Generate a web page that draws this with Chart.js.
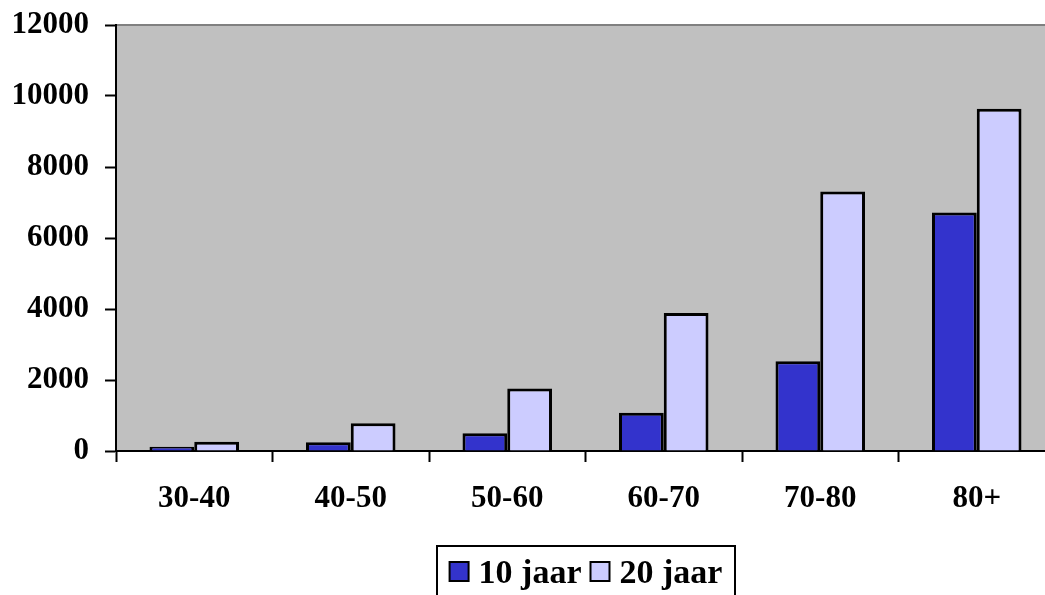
<!DOCTYPE html>
<html>
<head>
<meta charset="utf-8">
<title>10 jaar / 20 jaar</title>
<script src="https://cdn.jsdelivr.net/npm/chart.js@4/dist/chart.umd.min.js"></script>
<style>
  html, body { margin: 0; padding: 0; background: #ffffff; overflow: hidden; }
  #wrap { position: absolute; left: 0; top: 0; }
</style>
</head>
<body>
<div id="wrap">
  <canvas id="age-chart" width="1075" height="620"></canvas>
</div>
<script>
// ── Data ──────────────────────────────────────────────────────
const AGE_GROUPS   = ['30-40', '40-50', '50-60', '60-70', '70-80', '80+'];
const TEN_YEARS    = [120, 250, 500, 1080, 2530, 6720];
const TWENTY_YEARS = [260, 780, 1760, 3890, 7310, 9640];
const SERIES_NAMES = ['10 jaar', '20 jaar'];
const Y_MAX  = 12000;
const Y_STEP = 2000;

// Colors
const DARK_BLUE  = '#3333CC';
const LIGHT_BLUE = '#CCCCFF';
const PLOT_GREY  = '#C0C0C0';

// ── Layout (canvas is a bit wider than the window; the plot runs off the right edge)
const CANVAS_W = 1075;
const CANVAS_H = 620;
const PLOT_LEFT   = 116;
const PLOT_TOP    = 25;
const PLOT_RIGHT  = 1055;
const PLOT_BOTTOM = 451;

const FONT_FAMILY = '"Liberation Serif", "Times New Roman", serif';

// ── Plot background + grey top edge ───────────────────────────
const plotBackground = {
  id: 'plotBackground',
  beforeDraw: function (chart) {
    const a = chart.chartArea;
    const ctx = chart.ctx;
    ctx.save();
    ctx.fillStyle = PLOT_GREY;
    ctx.fillRect(a.left, a.top, a.right - a.left, a.bottom - a.top);
    ctx.strokeStyle = '#808080';
    ctx.lineWidth = 2;
    ctx.beginPath();
    ctx.moveTo(a.left, a.top);
    ctx.lineTo(a.right, a.top);
    ctx.stroke();
    ctx.restore();
  }
};

// ── Boxed legend under the axis ───────────────────────────────
const boxedLegend = {
  id: 'boxedLegend',
  afterDraw: function (chart) {
    const ctx = chart.ctx;
    const sets = chart.data.datasets;
    const swatch = 19;
    const gapAfterSwatch = 10;
    const gapBetween = 9;

    ctx.save();
    ctx.font = 'bold 34px ' + FONT_FAMILY;
    ctx.textBaseline = 'alphabetic';

    const boxLeft = 437, boxRight = 735, boxTop = 546, boxBottom = 605;
    ctx.strokeStyle = '#000000';
    ctx.lineWidth = 2;
    ctx.strokeRect(boxLeft, boxTop, boxRight - boxLeft, boxBottom - boxTop);

    let total = 0;
    sets.forEach(function (ds, i) {
      total += swatch + gapAfterSwatch + ctx.measureText(ds.label).width;
      if (i < sets.length - 1) total += gapBetween;
    });

    let x = (boxLeft + boxRight) / 2 - total / 2;
    sets.forEach(function (ds) {
      ctx.fillStyle = ds.backgroundColor;
      ctx.fillRect(x, 562, swatch, swatch);
      ctx.lineWidth = 2;
      ctx.strokeRect(x, 562, swatch, swatch);
      x += swatch + gapAfterSwatch;
      ctx.fillStyle = '#000000';
      ctx.fillText(ds.label, x, 583);
      x += ctx.measureText(ds.label).width + gapBetween;
    });
    ctx.restore();
  }
};

// ── Chart ─────────────────────────────────────────────────────
const tickFont = { family: FONT_FAMILY, size: 31, weight: 'bold' };

new Chart(document.getElementById('age-chart'), {
  type: 'bar',
  data: {
    labels: AGE_GROUPS,
    datasets: [
      {
        label: SERIES_NAMES[0],
        data: TEN_YEARS,
        backgroundColor: DARK_BLUE,
        borderColor: '#000000',
        borderWidth: 3,
        categoryPercentage: 0.572,
        barPercentage: 1
      },
      {
        label: SERIES_NAMES[1],
        data: TWENTY_YEARS,
        backgroundColor: LIGHT_BLUE,
        borderColor: '#000000',
        borderWidth: 3,
        categoryPercentage: 0.572,
        barPercentage: 1
      }
    ]
  },
  options: {
    responsive: false,
    devicePixelRatio: 1,
    animation: false,
    layout: {
      padding: { top: PLOT_TOP, left: 0, right: CANVAS_W - PLOT_RIGHT, bottom: 0 }
    },
    plugins: {
      legend: { display: false },   // drawn by boxedLegend
      tooltip: { enabled: false }
    },
    scales: {
      x: {
        offset: true,
        grid: {
          offset: true,
          drawOnChartArea: false,
          drawTicks: true,
          tickLength: 11,
          tickColor: '#000000',
          tickWidth: 2
        },
        border: { color: '#000000', width: 2 },
        ticks: { font: tickFont, color: '#000000', padding: 18, maxRotation: 0 },
        afterFit: function (scale) {
          scale.height = CANVAS_H - PLOT_BOTTOM;
          scale.paddingLeft = 0;
          scale.paddingRight = 0;
        }
      },
      y: {
        min: 0,
        max: Y_MAX,
        grid: {
          drawOnChartArea: false,
          drawTicks: true,
          tickLength: 11,
          tickColor: '#000000',
          tickWidth: 2
        },
        border: { color: '#000000', width: 2 },
        ticks: {
          stepSize: Y_STEP,
          font: tickFont,
          color: '#000000',
          padding: 16,
          callback: function (v) { return String(v); }
        },
        afterFit: function (scale) {
          scale.width = PLOT_LEFT;
          // top label may hang above the plot; don't let it push the plot down
          scale.paddingTop = 0;
          scale.paddingBottom = 0;
        }
      }
    }
  },
  plugins: [plotBackground, boxedLegend]
});
</script>
</body>
</html>
